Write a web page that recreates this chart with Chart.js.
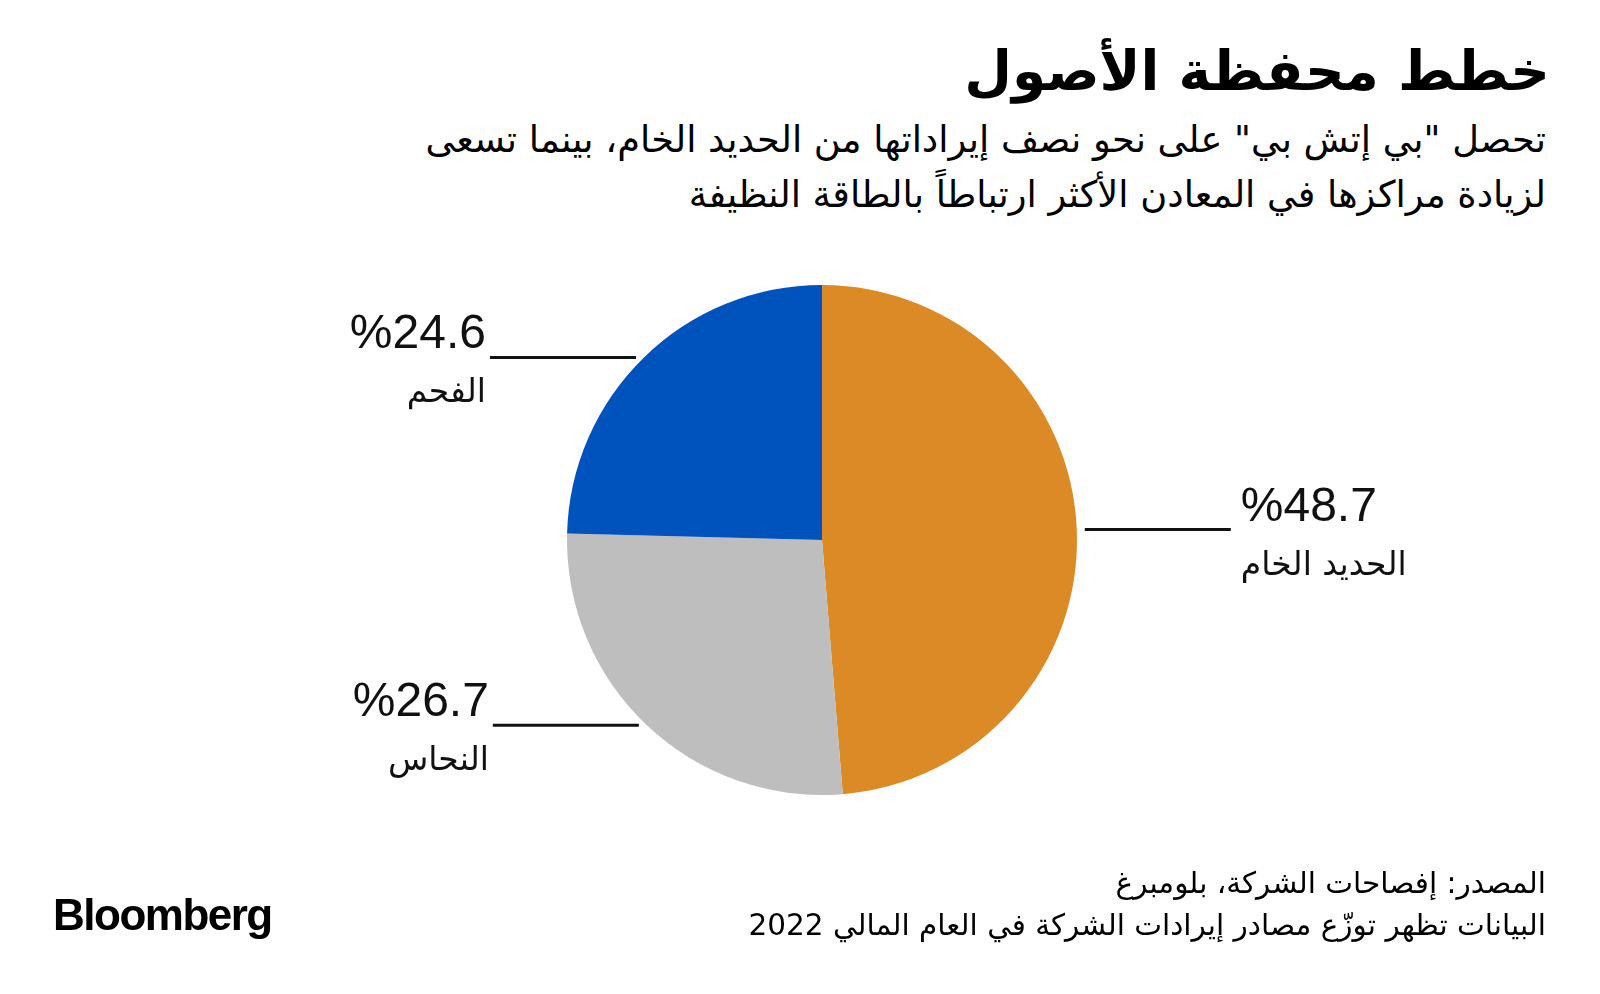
<!DOCTYPE html>
<html lang="ar">
<head>
  <meta charset="UTF-8">
  <title>خطط محفظة الأصول</title>
  <style>
    body { margin: 0; background: #fff; width: 1600px; height: 994px; overflow: hidden; position: relative; font-family: 'DejaVu Sans', sans-serif; color: #000; }
    #grafico { position: absolute; left: 0; top: 0; }
    .txt { position: absolute; right: 54px; direction: rtl; text-align: right; white-space: nowrap; }
    #titulo { top: 31px; right: 50px; font-size: 55px; font-weight: bold; line-height: 80px; }
    #sub { top: 112px; font-size: 36.8px; line-height: 55px; }
    #fonte { top: 862px; font-size: 29.5px; line-height: 42px; }
    #logo { position: absolute; left: 53px; top: 893px; font-family: 'Liberation Sans', Arial, sans-serif; font-weight: bold; font-size: 44px; letter-spacing: -1.5px; line-height: 44px; }
  </style>
</head>
<body>
  <div id="titulo" class="txt">خطط محفظة الأصول</div>
  <div id="sub" class="txt">تحصل "بي إتش بي" على نحو نصف إيراداتها من الحديد الخام، بينما تسعى<br>لزيادة مراكزها في المعادن الأكثر ارتباطاً بالطاقة النظيفة</div>
  <canvas id="grafico" width="1600" height="994"></canvas>
  <div id="fonte" class="txt">المصدر: إفصاحات الشركة، بلومبرغ<br>البيانات تظهر توزّع مصادر إيرادات الشركة في العام المالي 2022</div>
  <div id="logo">Bloomberg</div>
  <script src="https://cdn.jsdelivr.net/npm/chart.js"></script>
  <script>
    // Fatias: minério de ferro, cobre, carvão (sentido horário a partir do topo)
    const categorias = ['الحديد الخام', 'النحاس', 'الفحم'];
    const valores = [48.7, 26.7, 24.6];
    const rotulos = ['%48.7', '%26.7', '%24.6'];
    const cores = ['#db8a26', '#bebebe', '#0053bd'];

    // rótulos com linha horizontal saindo do meio de cada fatia
    const rotulosPlug = {
      id: 'rotulosPlug',
      afterDatasetsDraw(chart) {
        const ctx = chart.ctx;
        const meta = chart.getDatasetMeta(0);
        meta.data.forEach((arc, i) => {
          const p = arc.getProps(['x', 'y', 'startAngle', 'endAngle', 'outerRadius']);
          const meio = (p.startAngle + p.endAngle) / 2;
          const px = p.x + Math.cos(meio) * p.outerRadius;
          const py = p.y + Math.sin(meio) * p.outerRadius;
          const dir = Math.cos(meio) >= 0 ? 1 : -1;
          const x0 = px + dir * 8, x1 = x0 + dir * 146;
          ctx.save();
          ctx.strokeStyle = '#111';
          ctx.lineWidth = 3;
          ctx.beginPath();
          ctx.moveTo(x0, py);
          ctx.lineTo(x1, py);
          ctx.stroke();
          const tx = x1 + dir * (dir > 0 ? 10 : 4);
          ctx.fillStyle = '#111';
          ctx.textAlign = dir > 0 ? 'left' : 'right';
          ctx.textBaseline = 'alphabetic';
          ctx.direction = 'ltr';
          ctx.font = '48px "Liberation Sans", Arial, sans-serif';
          ctx.fillText(rotulos[i], tx, py - 9);
          ctx.direction = 'rtl';
          ctx.font = '33px "DejaVu Sans", sans-serif';
          ctx.fillText(categorias[i], tx, py + 45);
          ctx.restore();
        });
      }
    };

    new Chart(document.getElementById('grafico'), {
      type: 'pie',
      data: {
        labels: categorias,
        datasets: [{ data: valores, backgroundColor: cores, borderWidth: 0 }]
      },
      options: {
        responsive: false,
        animation: false,
        layout: { padding: { left: 567, right: 523, top: 285, bottom: 199 } },
        plugins: { legend: { display: false }, tooltip: { enabled: false } }
      },
      plugins: [rotulosPlug]
    });
  </script>
</body>
</html>
